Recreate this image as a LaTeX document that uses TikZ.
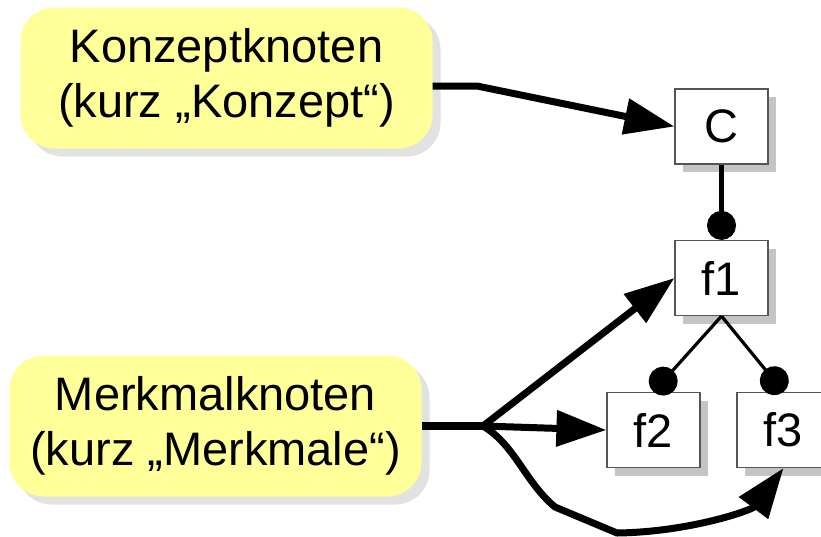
\documentclass[tikz,border=0pt]{standalone}
\usepackage{fontspec}
\setmainfont{Liberation Sans}
\usetikzlibrary{arrows.meta,shadows}
\definecolor{notefill}{HTML}{FFFF99}
\definecolor{noteshade}{HTML}{E2E2E2}
\definecolor{boxshade}{HTML}{C4C4C4}
\definecolor{boxline}{HTML}{555555}
\tikzset{
    every node/.style={font=\fontsize{47}{55}\selectfont, inner sep=0pt},
    note/.style={fill=notefill, rounded corners=34pt, align=center,
        minimum width=412pt, minimum height=141pt,
        drop shadow={shadow xshift=8pt, shadow yshift=-8pt, fill=noteshade, opacity=1}},
    knot/.style={draw=boxline, line width=1.2pt, fill=white,
        minimum width=93pt, minimum height=75pt,
        drop shadow={shadow xshift=8pt, shadow yshift=-8pt, fill=boxshade, opacity=1}},
    pointer/.style={line width=7pt, -{Triangle[length=50pt,width=35pt]}},
    link/.style={line width=3.2pt, -{Circle[length=29pt]}}
}

\begin{document}
\begin{tikzpicture}[x=1pt, y=-1pt]
        \useasboundingbox (0,0) rectangle (821,536);
        \node (kz) [note] at (226.5, 78) {Konzeptknoten\\(kurz „Konzept“)};
        \node (mk) [note] at (215.5, 426) {Merkmalknoten\\(kurz „Merkmale“)};
        \node (c) [knot] at (721.5, 126.5) {C};
        \node (f1) [knot] at (721.5, 278) {f1};
        \node (f2) [knot] at (653.5, 430) {f2};
        \node (f3) [knot] at (783.5, 430) {f3};
        \coordinate (kink) at (477, 86);
        \coordinate (fork) at (483, 426);
        \draw [pointer, line join=round] ([yshift=-8pt]kz.east) -- (kink) -- (c.west);
        \draw (c) edge [link, line width=4.5pt] (f1.north);
        \draw (f1.south) edge [link] (f2.north);
        \draw (f1.south) edge [link] (f3.north);
        \draw [line width=8pt] (mk.east) -- (fork);
        \draw (fork) edge [pointer] (f1.west);
        \draw (fork) edge [pointer] (f2.west);
        \draw [pointer, line join=round] (fork) .. controls (515,445) and (525,482) .. (555,507)
                -- (617,533) .. controls (690,532) and (752,510) .. (f3.south);
\end{tikzpicture}
\end{document}
